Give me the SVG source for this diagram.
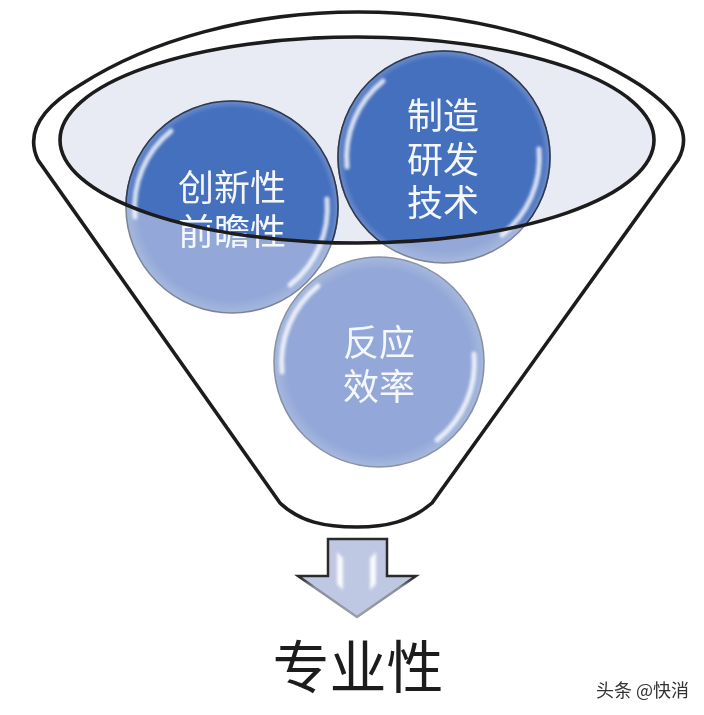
<svg xmlns="http://www.w3.org/2000/svg" width="704" height="715" viewBox="0 0 704 715">
<style>
.line{fill:none;stroke:#1c1c1c;stroke-width:3.6}
.lbl{font-family:"Noto Sans CJK SC","Liberation Sans",sans-serif;font-size:36px;fill:#f4f7fc;text-anchor:middle}
.rim{fill:none;stroke:#2f3a4e;stroke-width:1.6}
.gl{fill:none;stroke:#fff;stroke-width:5;stroke-linecap:round;opacity:.8}
</style>
<defs>
<filter id="soft" x="-5%" y="-5%" width="110%" height="110%"><feGaussianBlur stdDeviation="0.7"/></filter>
<filter id="glow" x="-20%" y="-20%" width="140%" height="140%"><feGaussianBlur stdDeviation="1.4"/></filter>
<radialGradient id="pale"><stop offset=".88" stop-color="#93a8d8"/><stop offset="1" stop-color="#a6b8de"/></radialGradient>
<radialGradient id="dark"><stop offset=".93" stop-color="#456fbe"/><stop offset="1" stop-color="#6f8eca"/></radialGradient>
<linearGradient id="arrowEdge" gradientUnits="userSpaceOnUse" x1="0" y1="539" x2="0" y2="617"><stop offset=".5" stop-color="#2a2a2a"/><stop offset=".62" stop-color="#8a8f9c"/><stop offset="1" stop-color="#9a9ea8"/></linearGradient>
<clipPath id="bowl"><ellipse cx="357" cy="140" rx="297" ry="103"/></clipPath>
<g id="gloss" filter="url(#glow)"><path class="gl" d="M-61-76A98 98 0 0 0-97 10"/><path class="gl" d="M95-8A98 98 0 0 1 58 78"/></g>
</defs>
<rect width="704" height="715" fill="#fff"/>
<g filter="url(#soft)">
<g id="funnel">
<path d="M280 503L38 160C26 135 38 110 80 85C150 40 250 12 358 12C470 12 570 40 640 85C680 112 692 135 678 160L432 503C410 522 385 527 357 527C325 527 300 522 280 503Z" fill="#fff" stroke="#1c1c1c" stroke-width="3.6"/>
<ellipse cx="357" cy="140" rx="297" ry="103" fill="#e9ebf4"/>
</g>
<g id="node-efficiency">
<circle cx="379" cy="362" r="105" fill="url(#pale)" stroke="#8a93a6" stroke-width="1.6"/>
<use href="#gloss" transform="translate(379 362)"/>
<text class="lbl" x="379" y="356">反应</text>
<text class="lbl" x="379" y="400">效率</text>
</g>
<g id="node-innovation">
<circle cx="232" cy="207" r="106" fill="url(#pale)" stroke="#7d8698" stroke-width="1.6"/>
<g clip-path="url(#bowl)"><circle cx="232" cy="207" r="106" fill="url(#dark)"/><circle class="rim" cx="232" cy="207" r="106"/></g>
<use href="#gloss" transform="translate(232 207)"/>
<text class="lbl" x="232" y="201">创新性</text>
<text class="lbl" x="232" y="245">前瞻性</text>
</g>
<g id="node-rnd">
<circle cx="444" cy="157" r="106" fill="url(#pale)" stroke="#7d8698" stroke-width="1.6"/>
<g clip-path="url(#bowl)"><circle cx="444" cy="157" r="106" fill="url(#dark)"/><circle class="rim" cx="444" cy="157" r="106"/></g>
<use href="#gloss" transform="translate(444 157)"/>
<text class="lbl" x="443" y="129">制造</text>
<text class="lbl" x="443" y="173">研发</text>
<text class="lbl" x="443" y="216">技术</text>
</g>
<g id="connectors">
<ellipse class="line" cx="357" cy="140" rx="297" ry="103"/>
<path id="arrow" d="M328 539H387V576H416L357 617L298 576H328Z" fill="#bfc8e3" stroke="url(#arrowEdge)" stroke-width="2.5"/>
<path d="M337 552L343 558V590L337 584ZM376 552L370 558V590L376 584Z" fill="#fff" opacity=".9" filter="url(#glow)"/>
</g>
<g id="node-result">
<text x="358" y="688" font-family="'Noto Sans CJK SC','Liberation Sans',sans-serif" font-size="57" fill="#1a1a1a" text-anchor="middle">专业性</text>
</g>
</g>
<text x="596" y="697" font-family="'Noto Sans CJK SC','Liberation Sans',sans-serif" font-size="18" fill="#333">头条 @快消</text>
</svg>
